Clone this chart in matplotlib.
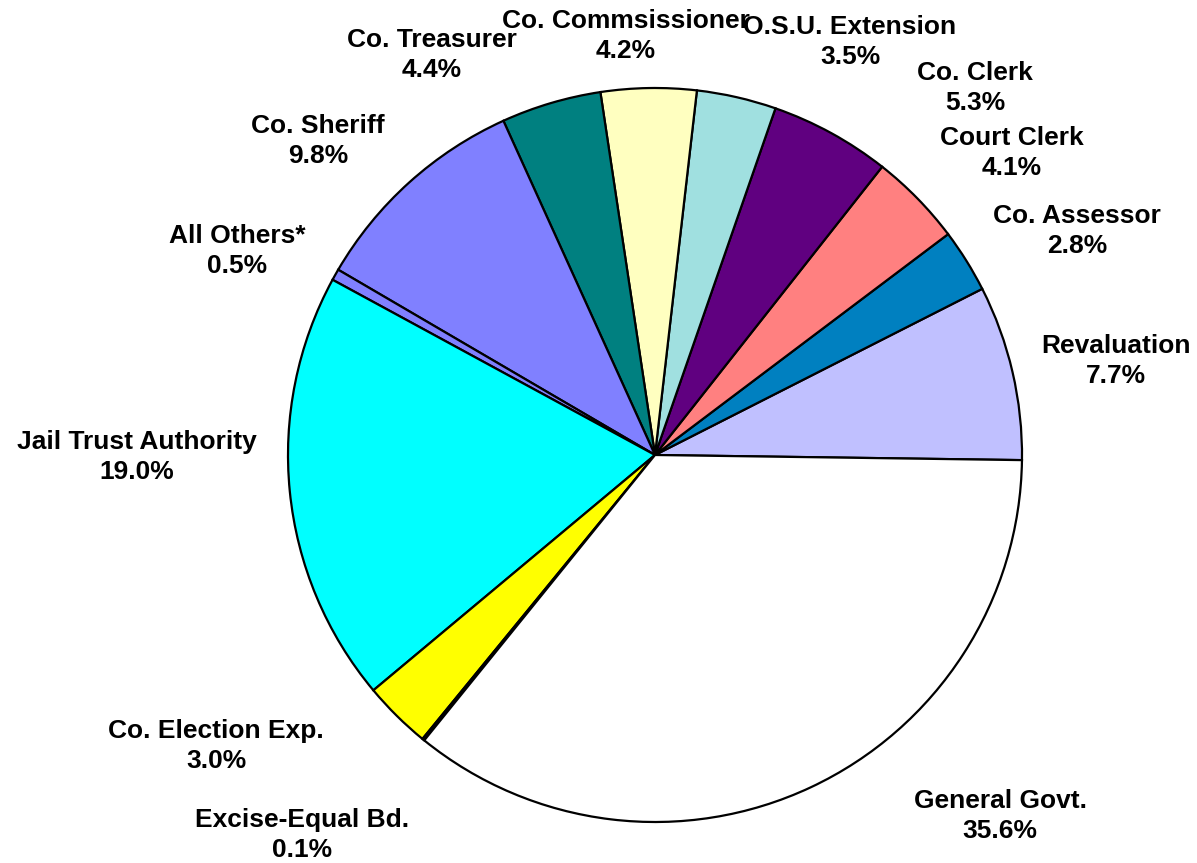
import matplotlib
matplotlib.use("Agg")
import matplotlib.pyplot as plt

# Budget shares by department (percent)
categories = [
    "Revaluation", "Co. Assessor", "Court Clerk", "Co. Clerk",
    "O.S.U. Extension", "Co. Commsissioner", "Co. Treasurer", "Co. Sheriff",
    "All Others*", "Jail Trust Authority", "Co. Election Exp.",
    "Excise-Equal Bd.", "General Govt.",
]
shares = [7.7, 2.8, 4.1, 5.3, 3.5, 4.2, 4.4, 9.8, 0.5, 19.0, 3.0, 0.1, 35.6]

colors = [
    "#C0C0FF", "#0080C0", "#FF8080", "#600080", "#A0E0E0", "#FFFFC0",
    "#008080", "#8080FF", "#8080FF", "#00FFFF", "#FFFF00", "#800080",
    "#FFFFFF",
]

# Label anchor points (pixel layout, y measured from the top)
label_xy = [
    (1116, 361), (1077, 231), (1012, 153), (975, 88), (850, 42), (626, 36),
    (432, 55), (318, 141), (237, 251), (137, 457), (216, 746), (302, 835),
    (1000, 816),
]

W, H = 1197, 863
fig = plt.figure(figsize=(W / 100, H / 100), dpi=100)
ax = fig.add_axes([0, 0, 1, 1])

cx, cy, r = 655, H - 455, 367
ax.pie(
    shares,
    colors=colors,
    startangle=-0.8,
    counterclock=True,
    center=(cx, cy),
    radius=r,
    frame=True,
    wedgeprops=dict(edgecolor="black", linewidth=1.6),
)
ax.set_xlim(0, W)
ax.set_ylim(0, H)
ax.set_aspect("equal")
ax.axis("off")

for name, val, (lx, ly) in zip(categories, shares, label_xy):
    ax.text(
        lx, H - ly, f"{name}\n{val:.1f}%",
        ha="center", va="center", fontsize=19, fontweight="bold",
        family="Liberation Sans", linespacing=1.3, color="black",
    )

fig.savefig("out.png", dpi=100)
